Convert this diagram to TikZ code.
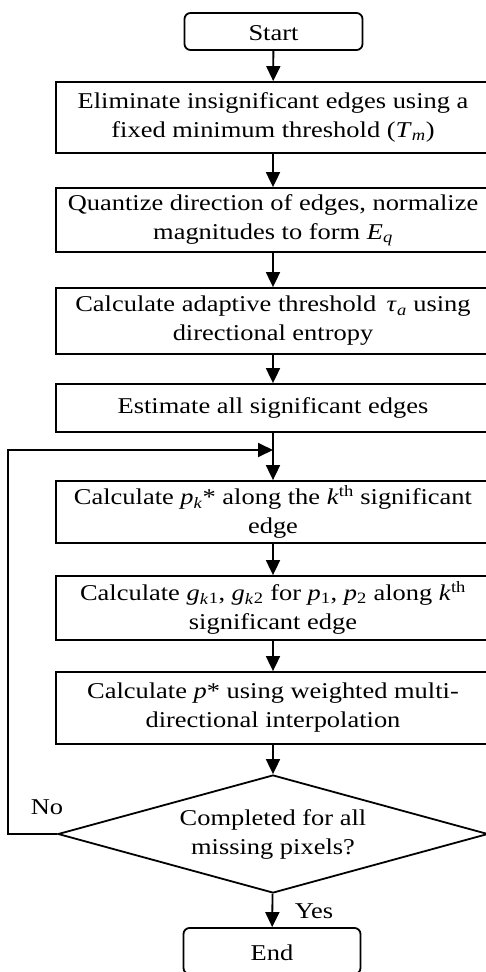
\documentclass[tikz,border=0pt]{standalone}
\usepackage{fontspec}
\setmainfont{Liberation Serif}[FakeStretch=1.17]
\usetikzlibrary{shapes.geometric,arrows.meta}
\newcommand{\iv}[2]{\textit{#1}\textsubscript{\textit{#2}}}
\begin{document}
\begin{tikzpicture}[x=1pt,y=-1pt,
  every node/.style={font=\fontsize{22.6}{29}\selectfont, inner sep=0pt, align=center},
  procbox/.style={draw, line width=1.8pt, minimum width=434pt},
  termbox/.style={draw, line width=1.8pt, rounded corners=6pt},
  decbox/.style={draw, line width=1.8pt, diamond, aspect=3.6},
  conn/.style={line width=1.8pt, -{Triangle[length=15pt,width=14pt]}}]
\useasboundingbox (0,0) rectangle (486,972);
\node[termbox, minimum width=178pt, minimum height=37pt] (start) at (273.5,31.5) {};
\node (starttext) at (273.5,33) {Start};
\node[procbox, minimum height=71pt] (b1) at (273,117.5) {Eliminate insignificant edges using a\\ fixed minimum threshold (\iv{T}{m})};
\node[procbox, minimum height=64pt] (b2) at (273,220) {Quantize direction of edges, normalize\\ magnitudes to form \iv{E}{q}};
\node[procbox, minimum height=66pt] (b3) at (273,321) {Calculate adaptive threshold \,\iv{τ}{a} using\\ directional entropy};
\node[procbox, minimum height=48pt] (b4) at (273,408) {Estimate all significant edges};
\node[procbox, minimum height=62pt] (b5) at (273,512) {Calculate \iv{p}{k}* along the \textit{k}\textsuperscript{th} significant\\ edge};
\node[procbox, minimum height=64pt] (b6) at (273,608) {Calculate \iv{g}{k}\textsubscript{1}, \iv{g}{k}\textsubscript{2} for \textit{p}\textsubscript{1}, \textit{p}\textsubscript{2} along \textit{k}\textsuperscript{th}\\ significant edge};
\node[procbox, minimum height=72pt] (b7) at (273,708) {Calculate \textit{p}* using weighted multi-\\ directional interpolation};
\node[decbox, minimum width=430pt, minimum height=118pt] (dec) at (273,834) {};
\node (dectext) at (273,834) {Completed for all\\ missing pixels?};
\node[termbox, minimum width=177pt, minimum height=46pt] (end) at (272,951) {};
\node (endtext) at (272,953) {End};
\node (no) at (47,807) {No};
\node (yes) at (314,911) {Yes};
\coordinate (merge) at (273,450);
\coordinate (lft) at (8,834);
\draw[conn] (start) -- (b1);
\draw[conn] (b1) -- (b2);
\draw[conn] (b2) -- (b3);
\draw[conn] (b3) -- (b4);
\draw[conn] (b4) -- (b5);
\draw[conn] (b5) -- (b6);
\draw[conn] (b6) -- (b7);
\draw[conn] (b7) -- (dec);
\draw[conn] (dec) -- (end);
\draw[conn] (dec.west) -- (lft) |- (merge);
\end{tikzpicture}
\end{document}
